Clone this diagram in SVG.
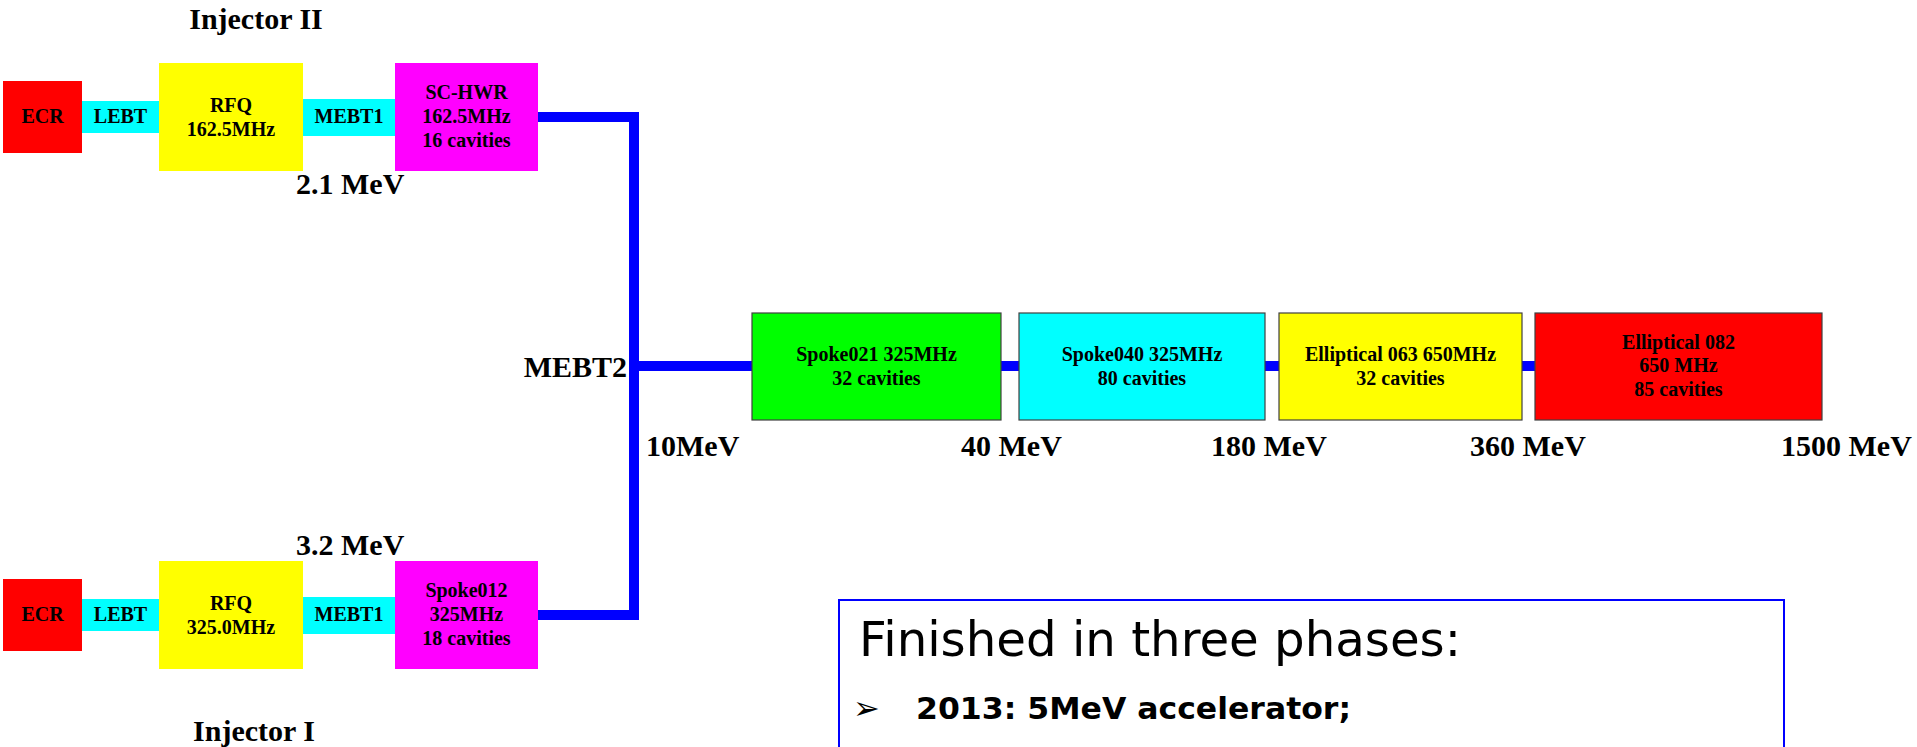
<svg xmlns="http://www.w3.org/2000/svg" width="1917" height="747" viewBox="0 0 1917 747">
<style>
  .bt { font-family: "Liberation Serif", "Times New Roman", serif; font-weight: bold; font-size: 20px; fill: #000; text-anchor: middle; }
  .lbl { font-family: "Liberation Serif", "Times New Roman", serif; font-weight: bold; font-size: 30px; fill: #000; }
  .beam { fill: none; stroke: #0000FF; stroke-width: 10; stroke-linejoin: miter; stroke-linecap: butt; }
  .lin { stroke: #404040; stroke-width: 1.2; }
  .red { fill: #FF0000; }
  .cyan { fill: #00FFFF; }
  .yellow { fill: #FFFF00; }
  .mag { fill: #FF00FF; }
  .green { fill: #00FF00; }
  .note { font-family: "DejaVu Sans", Verdana, sans-serif; fill: #000; }
</style>

<g id="connectors">
  <path class="beam" d="M538,117 H634 V615 H538"/>
  <path class="beam" d="M634,366 H752"/>
  <path class="beam" d="M1001,366 H1019"/>
  <path class="beam" d="M1265,366 H1279"/>
  <path class="beam" d="M1522,366 H1535"/>
</g>

<text class="lbl" x="256" y="29" text-anchor="middle">Injector II</text>
<text class="lbl" x="254" y="741" text-anchor="middle">Injector I</text>

<!-- Injector II -->
<g id="ecr2"><rect class="red" x="3" y="81" width="79" height="72"/><text class="bt" x="42.5" y="123">ECR</text></g>
<g id="lebt2"><rect class="cyan" x="82" y="101" width="77" height="32"/><text class="bt" x="120.5" y="123">LEBT</text></g>
<g id="rfq2"><rect class="yellow" x="159" y="63" width="144" height="108"/><text class="bt" x="231" y="112">RFQ</text><text class="bt" x="231" y="136">162.5MHz</text></g>
<g id="mebt1-2"><rect class="cyan" x="303" y="99" width="92" height="37"/><text class="bt" x="349" y="123">MEBT1</text></g>
<g id="schwr"><rect class="mag" x="395" y="63" width="143" height="108"/><text class="bt" x="466.5" y="99">SC-HWR</text><text class="bt" x="466.5" y="123">162.5MHz</text><text class="bt" x="466.5" y="147">16 cavities</text></g>
<text class="lbl" x="296" y="194">2.1 MeV</text>

<!-- Injector I -->
<g id="ecr1"><rect class="red" x="3" y="579" width="79" height="72"/><text class="bt" x="42.5" y="621">ECR</text></g>
<g id="lebt1"><rect class="cyan" x="82" y="599" width="77" height="32"/><text class="bt" x="120.5" y="621">LEBT</text></g>
<g id="rfq1"><rect class="yellow" x="159" y="561" width="144" height="108"/><text class="bt" x="231" y="610">RFQ</text><text class="bt" x="231" y="634">325.0MHz</text></g>
<g id="mebt1-1"><rect class="cyan" x="303" y="597" width="92" height="37"/><text class="bt" x="349" y="621">MEBT1</text></g>
<g id="spoke012"><rect class="mag" x="395" y="561" width="143" height="108"/><text class="bt" x="466.5" y="597">Spoke012</text><text class="bt" x="466.5" y="621">325MHz</text><text class="bt" x="466.5" y="645">18 cavities</text></g>
<text class="lbl" x="296" y="555">3.2 MeV</text>

<!-- MEBT2 -->
<text class="lbl" x="627" y="377" text-anchor="end">MEBT2</text>

<!-- Main linac -->
<g id="spoke021"><rect class="green lin" x="752" y="313" width="249" height="107"/><text class="bt" x="876.5" y="361">Spoke021 325MHz</text><text class="bt" x="876.5" y="385">32 cavities</text></g>
<g id="spoke040"><rect class="cyan lin" x="1019" y="313" width="246" height="107"/><text class="bt" x="1142" y="361">Spoke040 325MHz</text><text class="bt" x="1142" y="385">80 cavities</text></g>
<g id="ell063"><rect class="yellow lin" x="1279" y="313" width="243" height="107"/><text class="bt" x="1400.5" y="361">Elliptical 063 650MHz</text><text class="bt" x="1400.5" y="385">32 cavities</text></g>
<g id="ell082"><rect class="red lin" x="1535" y="313" width="287" height="107"/><text class="bt" x="1678.5" y="349">Elliptical 082</text><text class="bt" x="1678.5" y="372">650 MHz</text><text class="bt" x="1678.5" y="396">85 cavities</text></g>

<text class="lbl" x="646" y="456">10MeV</text>
<text class="lbl" x="961" y="456">40 MeV</text>
<text class="lbl" x="1211" y="456">180 MeV</text>
<text class="lbl" x="1470" y="456">360 MeV</text>
<text class="lbl" x="1781" y="456">1500 MeV</text>

<!-- Note box -->
<g id="note">
  <rect x="839" y="600" width="945" height="200" fill="#FFFFFF" stroke="#0000FF" stroke-width="2"/>
  <text class="note" x="859" y="656" font-size="48" textLength="602" lengthAdjust="spacingAndGlyphs">Finished in three phases:</text>
  <text class="note" x="853" y="719" font-size="32">➢</text>
  <text class="note" x="916" y="719" font-size="30" font-weight="bold" textLength="435" lengthAdjust="spacingAndGlyphs">2013: 5MeV accelerator;</text>
</g>
</svg>
